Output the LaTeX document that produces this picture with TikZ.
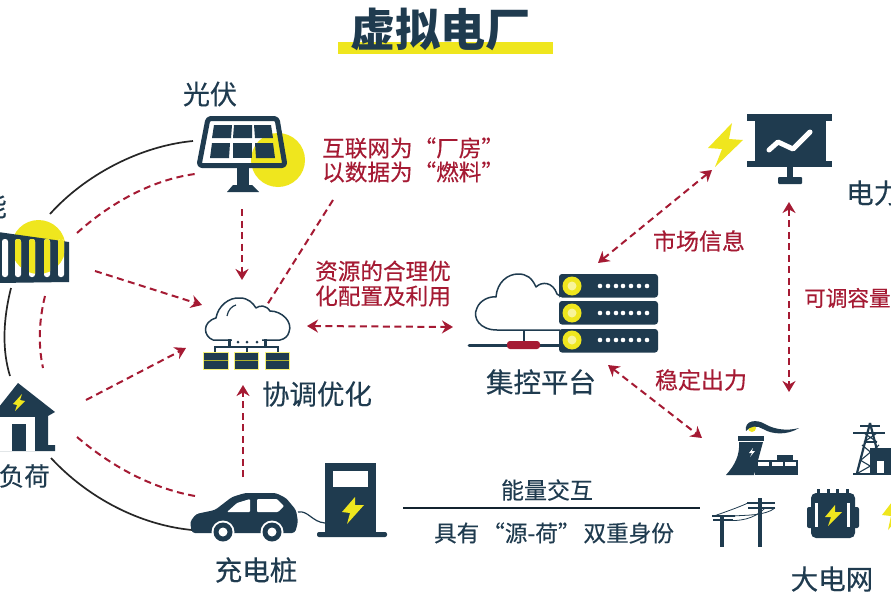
\documentclass[tikz,border=0pt]{standalone}
\usepackage{fontspec}
\setmainfont{Noto Sans CJK SC}[FakeBold=0.3]
\newfontfamily\ttl{Noto Sans CJK SC}
\usetikzlibrary{arrows.meta}
\definecolor{navy}{HTML}{1F3B4F}
\definecolor{crim}{HTML}{A51A33}
\definecolor{sunny}{HTML}{EFE61E}
\newcommand{\fs}[1]{\fontsize{#1}{#1}\selectfont}
\newcommand{\lqq}{\kern1pt“}
\newcommand{\rqq}{”}
\tikzset{
  dk/.style={fill=navy,draw=none},
  yl/.style={fill=sunny,draw=none},
  wh/.style={fill=white,draw=none},
  blackarc/.style={draw=black!85,line width=1.7pt},
  reddash/.style={draw=crim,line width=2pt,dash pattern=on 7pt off 4.5pt},
  oneway/.style={reddash,-{Stealth[length=11pt,width=13pt,fill=crim]}},
  twoway/.style={reddash,{Stealth[length=11pt,width=13pt,fill=crim]}-{Stealth[length=11pt,width=13pt,fill=crim]}},
  lab/.style={text=navy,inner sep=0pt},
  redlab/.style={text=crim,inner sep=0pt,font=\fs{22.6}},
  outline/.style={draw=navy,line width=1.5pt,fill=white,line join=round}
}
\begin{document}
\begin{tikzpicture}[x=1pt,y=-1pt]
\path[use as bounding box] (0,0) rectangle (891,594);
\clip (0,0) rectangle (891,594);
\fill[white] (0,0) rectangle (891,594);

% title
\fill[sunny] (338,42) rectangle (553,54);
\node[lab,font=\ttl\fs{45}\bfseries] (title) at (440,29) {虚拟电厂};

% named ends
\coordinate (pvArcA) at (193,141);
\coordinate (stArcA) at (50,214);
\coordinate (pvDashA) at (195,174);
\coordinate (stDashA) at (77,233);
\coordinate (pvDown) at (242,209);
\coordinate (hubTop) at (242,280);
\coordinate (labTail) at (333,200);
\coordinate (hubCloud) at (267,305);
\coordinate (stOut) at (95,271);
\coordinate (hubL1) at (202,305);
\coordinate (stArcB) at (11,288);
\coordinate (hsArcA) at (10,376);
\coordinate (stDashB) at (45,296);
\coordinate (hsDashA) at (43,368);
\coordinate (hsOut) at (86,400);
\coordinate (hubL2) at (186,348);
\coordinate (hsDashB) at (77,437);
\coordinate (carDash) at (195,496);
\coordinate (hsArcB) at (51,458);
\coordinate (carArc) at (192,530);
\coordinate (carUp) at (243,477);
\coordinate (hubBot) at (243,385);
\coordinate (hubR) at (307,326);
\coordinate (ctrL) at (453,327);
\coordinate (ctrT) at (598,263);
\coordinate (mktB) at (712,170);
\coordinate (mktD) at (789,202);
\coordinate (gridT) at (789,392);
\coordinate (ctrB) at (608,365);
\coordinate (gridL) at (702,438);
\coordinate (pileR) at (403,508);
\coordinate (gridW) at (700,508);

% connectors
\draw[blackarc] (stArcA) .. controls (85,175) and (140,146) .. (pvArcA);
\draw[blackarc] (stArcB) .. controls (3,320) and (2,350) .. (hsArcA);
\draw[blackarc] (hsArcB) .. controls (88,498) and (140,525) .. (carArc);
\draw[reddash] (stDashA) .. controls (108,205) and (150,180) .. (pvDashA);
\draw[reddash] (stDashB) .. controls (39,320) and (38,345) .. (hsDashA);
\draw[reddash] (hsDashB) .. controls (110,465) and (150,488) .. (carDash);
\draw[oneway] (pvDown) -- (hubTop);
\draw[reddash] (labTail) -- (hubCloud);
\draw[oneway] (stOut) -- (hubL1);
\draw[oneway] (hsOut) -- (hubL2);
\draw[oneway] (carUp) -- (hubBot);
\draw[twoway] (hubR) -- (ctrL);
\draw[twoway] (ctrT) -- (mktB);
\draw[twoway] (mktD) -- (gridT);
\draw[twoway] (ctrB) -- (gridL);
\draw[draw=navy!60!black,line width=1.6pt] (pileR) -- (gridW);

% PV panel
\fill[sunny] (278,160) circle[radius=27pt];
\draw[navy,line width=5pt,line join=round,rounded corners=3pt] (208,118.5) -- (277,118.5) -- (285,165.5) -- (199,165.5) -- cycle;
\foreach \a/\b/\c/\d in {214/232/212/231,234/252/233/252,254/271/255/273}{\fill[navy] (\a,125) -- (\b,125) -- (\d,138) -- (\c,138) -- cycle;}
\foreach \a/\b/\c/\d in {212/230/210/229,233/252/233/252,255/273/256/275}{\fill[navy] (\a,143) -- (\b,143) -- (\d,158) -- (\c,158) -- cycle;}
\fill[dk] (237,167) rectangle (249,186);
\fill[dk] (233,185) -- (252,185) -- (259,192) -- (227,192) -- cycle;

% storage
\fill[sunny] (38.5,247) circle[radius=27pt];
\fill[dk] (-2,232) -- (69,242) -- (69,282) -- (-2,283) -- cycle;
\begin{scope}
\foreach \a in {2,15,29,44,58}{\fill[white,rounded corners=2.5pt] (\a,239) rectangle (\a+6,277);}
\clip (38.5,247) circle[radius=27pt];
\foreach \a in {2,15,29,44,58}{\fill[sunny,rounded corners=2.5pt] (\a,239) rectangle (\a+6,277);}
\end{scope}

% house
\fill[dk] (-5,412) -- (18,383) -- (55,412) -- (48,416) -- (48,445) -- (55,445) -- (55,451) -- (-5,451) -- cycle;
\fill[wh] (-2,417) rectangle (35,451);
\fill[dk] (12,424) rectangle (26,451);
\fill[yl] (22,394) -- (13,404) -- (17,405) -- (15,411) -- (25,401) -- (20,400) -- cycle;

% hub cloud
\path[outline] (213,340) .. controls (203,336) and (202,322) .. (216,318)
  .. controls (218,306) and (229,297) .. (240,298) .. controls (248,298) and (253,303) .. (256,308)
  .. controls (260,305) and (266,305) .. (270,311) .. controls (282,311) and (293,322) .. (289,332)
  .. controls (288,336) and (285,339) .. (280,340) -- (213,340);
\fill[white] (232,336) rectangle (262,345);
\draw[navy,line width=1.2pt] (227,316) .. controls (228,310) and (232,306) .. (236,305);
\draw[navy,line width=1.4pt] (215,352) -- (215,347) -- (278,347) -- (278,352);
\draw[navy,line width=1.4pt] (247,347) -- (247,352);
\draw[navy,line width=3pt] (229,339) -- (229,347);
\draw[navy,line width=3pt] (265,339) -- (265,347);
\foreach \a in {238,247,257}{\fill[navy] (\a,342) circle[radius=1.5pt];}
\foreach \a/\b in {203/228,234/258,265/289}{
  \fill[navy] (\a,352) rectangle (\b,369);
  \draw[sunny!70!navy,line width=1pt] (\a,360.5) -- (\b,360.5);
  \draw[sunny!60!white,line width=.6pt] (\a,352) rectangle (\b,369);
}

% server
\path[outline] (497,330) .. controls (480,330) and (472,318) .. (477,308)
  .. controls (480,300) and (490,296) .. (496,297) .. controls (497,282) and (508,274) .. (518,274)
  .. controls (527,274) and (532,278) .. (536,287) .. controls (542,281) and (553,282) .. (557,294)
  -- (560,296) -- (572,330) -- cycle;
\fill[white] (560,290) rectangle (575,335);
\draw[navy,line width=2pt] (524,330) -- (524,345);
\draw[navy,line width=3pt,line cap=round] (469,345) -- (562,345);
\fill[crim,rounded corners=3pt] (507,341) rectangle (540,349);
\foreach \y in {274,301,329}{
  \fill[navy,rounded corners=3pt] (559,\y) rectangle (658,\y+23.5);
}
\foreach \y in {286,313,340}{
  \fill[sunny] (572,\y) circle[radius=9.5pt];
  \fill[sunny!45!white] (572,\y) circle[radius=4.5pt];
  \foreach \x in {600,608,616,623,631,639,647}{\fill[white] (\x,\y) circle[radius=2.3pt];}
}

% market monitor
\fill[yl] (732,123) -- (708,148) -- (722,149) -- (715,167) -- (743,140) -- (729,139) -- cycle;
\fill[dk] (755,119) rectangle (826,163);
\fill[dk] (747,114) rectangle (832,121);
\fill[dk] (747,161) rectangle (832,167);
\fill[dk] (787,167) rectangle (793,178);
\fill[dk,rounded corners=1pt] (778,177) rectangle (802,184);
\draw[white,line width=5pt,line join=round,line cap=round] (769,150) -- (778,142) -- (793,149) -- (810,132);

% car
\fill[dk,rounded corners=3pt] (192,533) -- (190,522) -- (196,514) -- (215,510) -- (232,497) -- (245,493) -- (276,493) -- (286,498) -- (296,510) -- (298,522) -- (295,533) -- cycle;
\fill[wh,rounded corners=1pt] (227,512) -- (237,503) -- (250,499) -- (250,512) -- cycle;
\fill[wh,rounded corners=1pt] (257,499) -- (277,499) -- (284,506) -- (278,512) -- (257,512) -- cycle;
\foreach \x in {223,272}{
  \fill[white] (\x,532) circle[radius=11.5pt];
  \fill[navy] (\x,532) circle[radius=9.5pt];
  \fill[white] (\x,532) circle[radius=4.5pt];
}
% charger
\draw[navy,line width=1.2pt] (298,512) .. controls (308,510) and (312,522) .. (325,523);
\fill[dk] (325,463) rectangle (376,533);
\fill[dk,rounded corners=2pt] (317,532) rectangle (387,537);
\fill[wh] (333,471) rectangle (368,487);
\fill[yl] (355,497) -- (342,512) -- (350,513) -- (347,524) -- (364,505) -- (355,505) -- cycle;

% plant
\fill[yl] (752,428) circle[radius=4pt];
\fill[dk] (746,431) .. controls (744,420) and (757,419) .. (765,424) .. controls (775,430) and (788,431) .. (799,428) .. controls (788,435) and (773,435) .. (763,429) .. controls (757,425) and (750,426) .. (746,431) -- cycle;
\fill[dk] (738,436) rectangle (764,440.5);
\fill[dk] (739,442) -- (763,442) -- (754,475) -- (726,475) .. controls (735,465) and (740,455) .. (739,442) -- cycle;
\fill[dk] (755,460) rectangle (798,475);
\fill[dk] (777,455) rectangle (793,460);
\foreach \a in {758,772,785}{\fill[white] (\a,462) rectangle (\a+11,466);}
\fill[wh] (753,448) -- (749,453) -- (752,453) -- (750,457) -- (755,451) -- (752,451) -- cycle;

% tower
\draw[navy,line width=2.2pt] (870,423) -- (857,473) (870,423) -- (883,473);
\draw[navy,line width=2pt] (860,426) -- (880,426) (853,433) -- (885,433) (864,442) -- (877,442);
\draw[navy,line width=1.1pt] (864,433) -- (877,442) (877,433) -- (864,442) (862,445) -- (880,460) (879,445) -- (861,460) (860,460) -- (882,473) (881,460) -- (858,473);
\fill[dk] (870,448) rectangle (893,473);
\fill[wh] (877,461) rectangle (884,473);
\draw[navy,line width=1.8pt] (853,474) -- (891,474);

% poles
\draw[navy,line width=3.4pt] (722,515) -- (722,547);
\draw[navy,line width=3.6pt] (760,498) -- (760,547);
\draw[navy,line width=2.4pt] (712,516) -- (735,516) (713,520) -- (733,520);
\draw[navy,line width=2.8pt] (747,503) -- (775,503) (748,508) -- (775,508);
\draw[navy,line width=.8pt] (714,516) .. controls (725,512) and (737,508) .. (748,503);
\draw[navy,line width=.8pt] (733,516) .. controls (745,515) and (765,516) .. (775,508);
\draw[navy,line width=.8pt] (725,520) .. controls (738,522) and (755,519) .. (765,508);

% transformer
\foreach \x in {818,828,837,847}{\fill[navy] (\x-1.5,489) rectangle (\x+1.5,494);}
\fill[dk,rounded corners=5pt] (811,493) rectangle (855,538);
\fill[dk,rounded corners=2pt] (807,507) rectangle (859,528);
\fill[wh] (815,503) rectangle (818,527);
\fill[wh] (847,503) rectangle (850,527);
\fill[yl] (835,505) -- (825,517) -- (831,517) -- (828,526) -- (842,512) -- (835,512) -- cycle;
\fill[yl] (895,498) -- (882,515) -- (891,516) -- (888,530) -- (905,510) -- (895,510) -- cycle;

% labels
\node[lab,font=\fs{27}] (lPV) at (210,94) {光伏};
\node[lab,font=\fs{27},anchor=east] (lST) at (7,206) {能};
\node[lab,font=\fs{25.5},anchor=east] (lHS) at (50,476) {负荷};
\node[lab,font=\fs{27.5}] (lHub) at (317,394) {协调优化};
\node[lab,font=\fs{27.5}] (lPile) at (256,570) {充电桩};
\node[lab,font=\fs{27.5}] (lCtr) at (541,382) {集控平台};
\node[lab,font=\fs{27.5},anchor=west] (lMkt) at (846,193) {电力};
\node[lab,font=\fs{27.5}] (lGrid) at (832,579) {大电网};
\node[lab,font=\fs{23}] (lEx) at (547,490) {能量交互};
\node[lab,font=\fs{22.6}] (lDual) at (554,533) {具有\kern3pt“源-荷”\kern3pt双重身份};
\node[redlab,anchor=west] (r1) at (322,148) {互联网为\lqq 厂房\rqq};
\node[redlab,anchor=west] (r2) at (322,172) {以数据为\lqq 燃料\rqq};
\node[redlab,anchor=west] (r3) at (315,271) {资源的合理优};
\node[redlab,anchor=west] (r4) at (315,296) {化配置及利用};
\node[redlab,font=\fs{23}] (r5) at (699,241) {市场信息};
\node[redlab,font=\fs{23}] (r6) at (701,380) {稳定出力};
\node[redlab,font=\fs{21.6},anchor=west] (r7) at (804,298) {可调容量};
\end{tikzpicture}
\end{document}
